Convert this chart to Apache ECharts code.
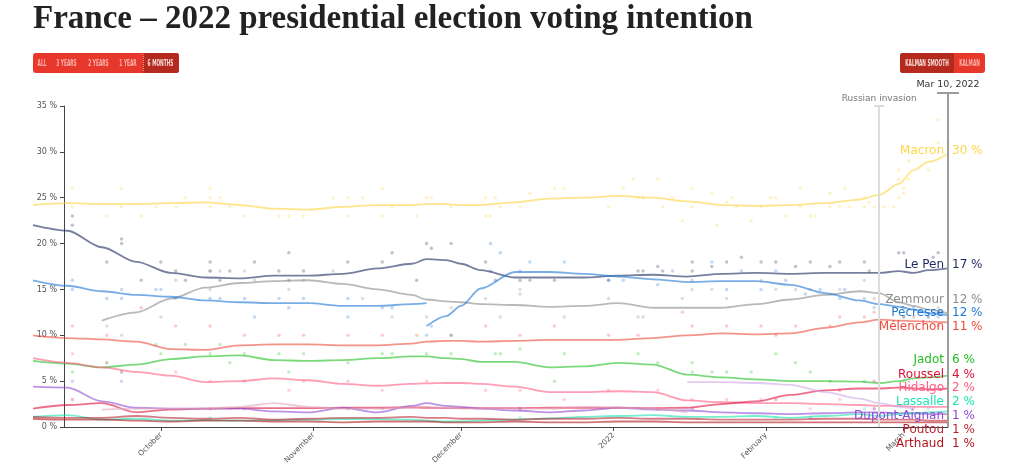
<!DOCTYPE html>
<html><head><meta charset="utf-8">
<script src="https://cdn.jsdelivr.net/npm/echarts@6/dist/echarts.min.js"></script>
<style>html,body{margin:0;padding:0;background:#fff}#c{width:1024px;height:474px}</style>
</head><body><div id="c"></div>
<script>
// ---------------- DATA ----------------
const sampleDates = ['2021-09-05','2021-09-12','2021-09-19','2021-09-26','2021-10-03','2021-10-10','2021-10-17','2021-10-24','2021-10-31','2021-11-07','2021-11-14','2021-11-21','2021-11-24','2021-11-28','2021-12-01','2021-12-05','2021-12-12','2021-12-19','2021-12-26','2022-01-02','2022-01-09','2022-01-16','2022-01-23','2022-01-30','2022-02-06','2022-02-13','2022-02-20','2022-02-24','2022-02-28','2022-03-03','2022-03-06','2022-03-10'];
const macron   = [24.2,24.4,24.3,24.3,24.4,24.5,24.2,23.8,23.7,24.0,24.2,24.2,24.3,24.3,24.2,24.2,24.5,24.9,25.0,25.2,25.0,24.6,24.2,24.1,24.2,24.4,24.8,25.3,26.5,28.0,28.9,29.8];
const lePen    = [22.0,21.4,19.6,18.0,16.8,16.3,16.2,16.5,16.5,16.7,17.3,17.8,18.3,18.2,17.8,17.1,16.3,16.3,16.3,16.5,16.6,16.4,16.7,16.8,16.7,16.8,16.8,16.8,17.0,16.8,17.1,17.3];
const zemmour  = [null,null,11.6,12.5,14.0,15.2,15.7,15.9,16.0,15.6,15.0,14.4,13.9,13.7,13.6,13.4,13.3,13.1,13.2,13.5,13.0,13.0,13.0,13.4,13.9,14.4,14.8,14.6,13.6,13.2,12.8,12.4];
const bertrand = [16.0,15.4,14.8,14.4,14.2,13.8,13.6,13.5,13.5,13.2,13.2,13.4,13.5,null,null,null,null,null,null,null,null,null,null,null,null,null,null,null,null,null,null,null];
const pecresse = [null,null,null,null,null,null,null,null,null,null,null,null,11.0,12.1,13.2,15.1,16.9,16.9,16.7,16.4,16.1,15.8,15.9,15.9,15.5,14.6,13.8,13.4,13.1,12.8,12.4,12.2];
const melenchon= [10.0,9.7,9.55,9.3,8.5,8.4,8.9,9.0,9.0,8.9,8.9,9.1,9.3,9.4,9.4,9.3,9.4,9.5,9.5,9.5,9.7,10.0,10.2,10.1,10.2,10.8,11.4,11.7,11.6,11.55,11.5,11.4];
const jadot    = [7.2,6.9,6.5,6.8,7.4,7.7,7.8,7.3,7.2,7.3,7.5,7.7,7.7,7.5,7.4,7.1,7.1,6.5,6.6,7.0,6.8,5.7,5.4,5.2,5.0,5.0,4.95,4.8,5.0,5.3,5.4,5.6];
const hidalgo  = [7.5,7.0,6.5,6.0,5.6,4.9,5.0,5.3,5.1,4.7,4.5,4.7,4.75,4.8,4.8,4.7,4.4,3.8,3.8,3.9,3.8,2.9,2.7,2.6,2.6,2.5,2.4,2.3,2.3,2.2,2.2,2.2];
const roussel  = [2.0,2.4,2.6,1.6,1.9,2.0,2.05,2.05,2.05,2.1,2.1,2.15,2.1,2.05,2.05,2.05,2.05,2.1,2.1,2.1,2.05,2.1,2.5,2.8,3.5,4.0,4.2,4.2,4.3,4.2,4.1,4.2];
const dupontAignan = [4.4,4.3,2.8,2.1,2.0,2.0,2.0,1.7,1.6,2.1,1.6,2.3,2.6,2.3,2.2,2.0,1.8,1.6,1.8,2.1,1.9,1.8,1.6,1.5,1.4,1.5,1.6,1.6,1.5,1.5,1.4,1.4];
const lassalle = [1.1,1.3,0.8,0.9,0.7,0.75,0.7,0.75,0.8,0.85,0.85,0.8,0.7,0.6,0.6,0.7,0.8,0.95,1.1,1.2,1.3,1.1,1.1,1.2,1.0,1.2,1.4,1.2,1.4,1.5,1.6,1.7];
const poutou   = [1.1,1.0,1.0,1.2,1.0,0.9,1.0,0.8,0.9,1.0,1.0,1.1,1.0,1.0,0.9,0.9,0.8,0.9,0.9,1.0,0.9,0.9,0.8,0.8,0.8,0.9,0.9,0.8,0.8,0.8,0.7,0.7];
const arthaud  = [0.9,0.8,0.8,0.7,0.6,0.7,0.7,0.6,0.6,0.5,0.6,0.6,0.6,0.5,0.5,0.5,0.6,0.5,0.5,0.6,0.6,0.5,0.5,0.5,0.5,0.5,0.5,0.5,0.5,0.5,0.5,0.5];
const montebourg = [null,null,1.9,2.0,2.0,2.0,2.2,2.6,2.2,2.0,2.0,2.1,2.2,2.1,2.0,2.0,2.0,2.0,2.2,2.1,2.0,1.6,null,null,null,null,null,null,null,null,null,null];
const taubira  = [null,null,null,null,null,null,null,null,null,null,null,null,null,null,null,null,null,null,null,null,null,4.9,4.9,4.8,4.6,3.8,3.1,2.6,2.2,2.0,null,null];

const macronPolls = [['2021-09-13',26],['2021-09-13',24],['2021-09-20',23],['2021-09-23',26],['2021-09-23',24],['2021-09-27',23],['2021-09-30',24],['2021-10-04',24],['2021-10-06',25],['2021-10-11',26],['2021-10-11',25],['2021-10-11',24],['2021-10-13',25],['2021-10-15',24],['2021-10-18',23],['2021-10-25',23],['2021-10-27',23],['2021-10-30',23],['2021-11-05',25],['2021-11-08',25],['2021-11-08',23],['2021-11-11',25],['2021-11-15',26],['2021-11-15',23],['2021-11-17',24],['2021-11-22',23],['2021-11-24',25],['2021-11-25',25],['2021-11-29',24],['2021-12-06',25],['2021-12-06',23],['2021-12-07',23],['2021-12-08',25],['2021-12-09',24],['2021-12-13',24],['2021-12-15',25.5],['2021-12-20',26],['2021-12-22',26],['2021-12-31',24],['2022-01-03',26],['2022-01-05',27],['2022-01-06',25],['2022-01-07',25],['2022-01-10',27],['2022-01-11',24],['2022-01-13',25],['2022-01-15',22.5],['2022-01-17',26],['2022-01-17',24],['2022-01-21',25.5],['2022-01-22',22],['2022-01-24',24.5],['2022-01-25',25],['2022-01-26',24],['2022-01-29',22.5],['2022-01-31',24],['2022-02-02',25],['2022-02-03',25],['2022-02-05',23],['2022-02-08',26],['2022-02-08',24],['2022-02-10',23],['2022-02-11',23],['2022-02-14',25.5],['2022-02-14',24],['2022-02-16',24],['2022-02-17',26],['2022-02-18',24],['2022-02-21',25],['2022-02-21',24],['2022-02-22',24.5],['2022-02-23',24],['2022-02-25',24],['2022-02-27',24],['2022-02-28',25],['2022-02-28',27],['2022-02-28',28],['2022-03-01',26],['2022-03-01',25.5],['2022-03-02',29],['2022-03-02',27],['2022-03-06',28],['2022-03-08',31],['2022-03-08',33.5],['2022-03-10',31]];
const lePenPolls = [['2021-09-13',23],['2021-09-13',22],['2021-09-20',18],['2021-09-23',20.5],['2021-09-23',20],['2021-09-27',16],['2021-10-01',18],['2021-10-04',17],['2021-10-06',16],['2021-10-11',18],['2021-10-11',17],['2021-10-13',16],['2021-10-15',17],['2021-10-20',18],['2021-10-25',17],['2021-10-27',19],['2021-10-27',16],['2021-10-30',17],['2021-11-08',18],['2021-11-15',18],['2021-11-17',19],['2021-11-22',16],['2021-11-24',20],['2021-11-25',19.5],['2021-11-29',20],['2021-12-06',18],['2021-12-08',16],['2021-12-13',16],['2021-12-15',16],['2021-12-20',16],['2021-12-31',16],['2022-01-06',17],['2022-01-07',17],['2022-01-10',17.5],['2022-01-11',17],['2022-01-17',18],['2022-01-17',17],['2022-01-21',17.5],['2022-01-24',18],['2022-01-27',18.5],['2022-01-31',18],['2022-02-03',18],['2022-02-07',17.5],['2022-02-10',18],['2022-02-14',17.5],['2022-02-16',18],['2022-02-21',18],['2022-02-22',17],['2022-02-28',19],['2022-03-01',19],['2022-03-07',18.5],['2022-03-08',19]];
const zemmourPolls = [['2021-09-20',11],['2021-09-23',10],['2021-10-01',12],['2021-10-04',16],['2021-10-11',17],['2021-10-11',15],['2021-10-13',17],['2021-10-18',17],['2021-10-20',16],['2021-10-27',15],['2021-10-30',16],['2021-11-05',17],['2021-11-11',14],['2021-11-17',12],['2021-11-24',12],['2021-11-29',13],['2021-12-06',14],['2021-12-09',12],['2021-12-13',15],['2021-12-13',14.5],['2021-12-22',12],['2021-12-31',14],['2022-01-06',12],['2022-01-07',12],['2022-01-15',14],['2022-01-17',15],['2022-01-21',15],['2022-01-24',14],['2022-01-31',16],['2022-02-03',15],['2022-02-07',15],['2022-02-10',15],['2022-02-16',15],['2022-02-21',16],['2022-02-23',14],['2022-03-01',13],['2022-03-06',12],['2022-03-08',13]];
const bertrandPolls = [['2021-09-13',16],['2021-09-13',15],['2021-09-20',14],['2021-09-23',15],['2021-09-23',14],['2021-09-30',15],['2021-10-01',15],['2021-10-04',14],['2021-10-11',14],['2021-10-13',14],['2021-10-18',14],['2021-10-20',12],['2021-10-25',14],['2021-10-27',13],['2021-10-30',14],['2021-11-08',14],['2021-11-08',12],['2021-11-15',13],['2021-11-17',13]];
const pecressePolls = [['2021-11-24',10],['2021-11-25',11],['2021-11-29',10],['2021-12-07',20],['2021-12-09',19],['2021-12-07',17],['2021-12-13',17],['2021-12-15',18],['2021-12-22',18],['2021-12-31',16],['2022-01-03',16],['2022-01-10',15.5],['2022-01-13',17],['2022-01-17',16],['2022-01-21',18],['2022-01-24',15],['2022-01-27',17],['2022-01-31',15],['2022-02-03',17],['2022-02-05',16],['2022-02-09',14.5],['2022-02-12',15],['2022-02-16',14],['2022-02-17',15],['2022-02-21',14],['2022-02-23',13],['2022-03-01',12],['2022-03-03',13],['2022-03-06',12],['2022-03-08',12]];
const melenchonPolls = [['2021-09-13',11],['2021-09-20',10],['2021-09-27',13],['2021-10-04',11],['2021-10-11',11],['2021-10-18',10],['2021-10-25',10],['2021-10-30',10],['2021-11-08',10],['2021-11-15',10],['2021-11-22',10],['2021-11-29',10],['2021-12-06',11],['2021-12-13',10],['2021-12-20',11],['2021-12-31',10],['2022-01-06',10],['2022-01-15',12.5],['2022-01-17',11],['2022-01-24',11],['2022-01-31',11],['2022-02-03',10],['2022-02-07',11],['2022-02-14',11],['2022-02-16',12],['2022-02-21',12],['2022-02-23',12.5],['2022-03-01',12],['2022-03-03',12],['2022-03-08',11]];
const jadotPolls = [['2021-09-13',6],['2021-09-20',7],['2021-09-23',6],['2021-09-30',9],['2021-10-01',8],['2021-10-06',9],['2021-10-11',8],['2021-10-13',9],['2021-10-15',7],['2021-10-18',8],['2021-10-25',8],['2021-10-27',6],['2021-10-30',8],['2021-11-08',7],['2021-11-15',8],['2021-11-17',8],['2021-11-24',8],['2021-11-29',8],['2021-12-08',8],['2021-12-09',8],['2021-12-13',8.5],['2021-12-20',5],['2021-12-22',8],['2022-01-06',8],['2022-01-10',7],['2022-01-17',7],['2022-01-17',6],['2022-01-21',6],['2022-01-24',6],['2022-01-29',6],['2022-02-03',8],['2022-02-07',7],['2022-02-10',6],['2022-02-14',5],['2022-02-21',5],['2022-03-01',5],['2022-03-06',6]];
const hidalgoPolls = [['2021-09-13',8],['2021-09-20',7],['2021-09-23',6],['2021-10-04',6],['2021-10-11',5],['2021-10-18',5],['2021-10-27',4],['2021-10-30',5],['2021-11-08',5],['2021-11-15',4],['2021-11-24',5],['2021-12-06',4],['2021-12-13',4],['2021-12-22',3],['2021-12-31',4],['2022-01-10',4],['2022-01-17',3],['2022-01-24',3],['2022-01-31',3],['2022-02-10',2],['2022-02-16',3],['2022-02-23',2],['2022-03-03',2]];
const rousselPolls = [['2021-09-13',3],['2021-10-11',2],['2021-11-08',2],['2021-12-13',2],['2022-01-10',2],['2022-02-03',3],['2022-02-16',4],['2022-02-23',5],['2022-03-06',4]];
const dupontPolls = [['2021-09-13',5],['2021-09-23',5],['2021-10-18',2],['2021-11-15',2],['2021-12-13',2],['2022-01-17',2],['2022-02-10',1],['2022-02-23',2]];
const lassallePolls = [['2021-10-11',1],['2021-12-13',1],['2022-02-03',1],['2022-02-21',2],['2022-03-06',2]];

const monthTicks  = ['2021-10-01','2021-11-01','2021-12-01','2022-01-01','2022-02-01','2022-03-01'];
const monthLabels = ['October','November','December','2022','February','March'];

const labelNames  = ['Macron','Le Pen','Zemmour','Pécresse','Mélenchon','Jadot','Roussel','Hidalgo','Lassalle','Dupont-Aignan','Poutou','Arthaud'];
const finalValues = [30,17,12,12,11,6,4,2,2,1,1,1];

// ---------------- STYLE / LAYOUT ----------------
const labelColors = ['#ffd54a','#1b2a5c','#8c8c8c','#1f77d4','#ef4b3c','#22c022','#df0f3a','#ff5c84','#17e6b0','#8d4ad3','#bb2433','#b3141b'];
const labelSlots  = [30.1,17.7,13.85,12.45,10.9,7.3,5.7,4.25,2.7,1.25,-0.3,-1.85];

function ts(s){ const p=s.split('-'); return Date.UTC(+p[0], +p[1]-1, +p[2]); }
const axisStart = Date.UTC(2021,8,11,7);   // where the drawn x axis begins
const plotStart = ts('2021-09-05');        // smoothed lines start a little before it
const xMax = ts('2022-03-10');
const tickVals = monthTicks.map(ts);

const lineDefs = [
  ['Macron', macron, '#ffd23f', macronPolls],
  ['Le Pen', lePen, '#1b2a5c', lePenPolls],
  ['Zemmour', zemmour, '#8a8a8a', zemmourPolls],
  ['Bertrand', bertrand, '#1f77d4', bertrandPolls],
  ['Pécresse', pecresse, '#1f77d4', pecressePolls],
  ['Mélenchon', melenchon, '#ef4b3c', melenchonPolls],
  ['Jadot', jadot, '#22c022', jadotPolls],
  ['Hidalgo', hidalgo, '#ff5c84', hidalgoPolls],
  ['Roussel', roussel, '#df0f3a', rousselPolls],
  ['Dupont-Aignan', dupontAignan, '#8d4ad3', dupontPolls],
  ['Lassalle', lassalle, '#17e6b0', lassallePolls],
  ['Poutou', poutou, '#bb2433', null],
  ['Arthaud', arthaud, '#b3141b', null],
  ['Montebourg', montebourg, '#e3a6bc', null],
  ['Taubira', taubira, '#cfa6e6', null]
];

const series = [];
// Russian invasion marker on the axes grid
series.push({
  type:'line', xAxisIndex:0, yAxisIndex:0, silent:true, data:[[ts('2022-02-24'), null]], showSymbol:false,
  markLine:{
    silent:true, animation:false,
    data:[[
      {coord:[ts('2022-02-24'), 0], symbol:'none'},
      {coord:[ts('2022-02-24'), 35], symbol:'rect', symbolSize:[10,2], symbolRotate:0}
    ]],
    lineStyle:{color:'#dcdcdc', width:2, type:'solid'},
    label:{show:true, position:'end', formatter:'Russian invasion', color:'#777', fontSize:9, fontFamily:'DejaVu Sans', distance:3}
  }
});
// Mar 10 marker on overlay grid
series.push({
  type:'line', xAxisIndex:1, yAxisIndex:1, silent:true, data:[[xMax, null]], showSymbol:false,
  markLine:{
    silent:true, animation:false,
    data:[[
      {coord:[xMax, 0], symbol:'none'},
      {coord:[xMax, 1], symbol:'rect', symbolSize:[22,2], symbolRotate:0}
    ]],
    lineStyle:{color:'#9c9c9c', width:2, type:'solid'},
    label:{show:true, position:'end', formatter:'Mar 10, 2022', color:'#333', fontSize:9.5, fontFamily:'DejaVu Sans', distance:3}
  }
});
lineDefs.forEach(([name, vals, color, polls]) => {
  if (polls) series.push({
    type:'scatter', name: name+' polls', xAxisIndex:2, yAxisIndex:2, silent:true, z:2,
    data: polls.map(p => [ts(p[0]), p[1]]),
    symbolSize: 3.5, itemStyle:{color: color, opacity: 0.28}
  });
  series.push({
    type:'line', name: name, xAxisIndex:2, yAxisIndex:2, silent:true, z:3, clip:false,
    data: sampleDates.map((d,i) => [ts(d), vals[i]]),
    showSymbol:false, smooth:0.3, smoothMonotone:'x', connectNulls:false,
    lineStyle:{color: color, width:1.8, opacity:0.6}, itemStyle:{color: color}
  });
});
// end labels
series.push({
  type:'custom', xAxisIndex:2, yAxisIndex:2, silent:true, z:10, clip:false,
  data: labelNames.map((n,i) => [xMax, labelSlots[i], i]),
  renderItem: function(params, api){
    const i = api.value(2);
    const p = api.coord([api.value(0), api.value(1)]);
    return {type:'group', children:[
      {type:'text', x:p[0]-4, y:p[1], style:{text:labelNames[i], fill:labelColors[i], align:'right', verticalAlign:'middle', font:'12px "DejaVu Sans"'}},
      {type:'text', x:p[0]+4, y:p[1], style:{text:finalValues[i]+' %', fill:labelColors[i], align:'left', verticalAlign:'middle', font:'12px "DejaVu Sans"'}}
    ]};
  }
});

const btnFont = 'bold 8px "DejaVu Sans Condensed", "DejaVu Sans", sans-serif';
function btnText(t, cx, fill){ return {type:'text', x:cx, y:63.5, z:101, scaleX:0.6, style:{text:t, fill:fill, align:'center', verticalAlign:'middle', font:btnFont}}; }

const option = {
  animation:false,
  backgroundColor:'#fff',
  title:{text:'France – 2022 presidential election voting intention', left:33, top:3, padding:0,
    textStyle:{fontFamily:'Liberation Serif', fontWeight:'bold', fontSize:33, color:'#222'}},
  grid:[
    {left:64, right:76, top:106, bottom:47},
    {left:64, right:76, top:93, bottom:47},
    {left:33, right:76, top:106, bottom:47}
  ],
  xAxis:[
    {type:'value', gridIndex:0, min:axisStart, max:xMax,
     axisLine:{show:true, onZero:false, lineStyle:{color:'#444', width:1}},
     axisTick:{show:true, length:4, customValues: tickVals, lineStyle:{color:'#444'}},
     axisLabel:{show:true, customValues: tickVals, rotate:45, fontSize:7.5, color:'#555', fontFamily:'DejaVu Sans', margin:7,
       formatter: function(v){ const i = tickVals.indexOf(v); return i>=0 ? monthLabels[i] : ''; }},
     splitLine:{show:false}},
    {type:'value', gridIndex:1, min:axisStart, max:xMax, show:false},
    {type:'value', gridIndex:2, min:plotStart, max:xMax, show:false}
  ],
  yAxis:[
    {type:'value', gridIndex:0, min:0, max:35, interval:5,
     axisLine:{show:true, lineStyle:{color:'#444', width:1}},
     axisTick:{show:true, length:4, lineStyle:{color:'#444'}},
     axisLabel:{formatter:'{value} %', fontSize:8, color:'#555', fontFamily:'DejaVu Sans', margin:7},
     splitLine:{show:false}},
    {type:'value', gridIndex:1, min:0, max:1, show:false},
    {type:'value', gridIndex:2, min:0, max:35, show:false}
  ],
  series: series,
  graphic:[
    {type:'rect', z:100, shape:{x:33, y:53, width:146, height:20, r:3}, style:{fill:'#e8382b'}},
    {type:'rect', z:100, shape:{x:143, y:53, width:36, height:20, r:[0,3,3,0]}, style:{fill:'#b52a1f'}},
    {type:'line', z:101, shape:{x1:143.5, y1:54, x2:143.5, y2:72}, style:{stroke:'#f19a90', lineWidth:1, lineDash:[1,1]}},
    btnText('ALL', 42, '#f7b1a8'), btnText('3 YEARS', 66.5, '#f7b1a8'), btnText('2 YEARS', 98.5, '#f7b1a8'),
    btnText('1 YEAR', 128, '#f7b1a8'), btnText('6 MONTHS', 160.5, '#f6dcd8'),
    {type:'rect', z:100, shape:{x:900, y:53, width:85, height:20, r:3}, style:{fill:'#e8382b'}},
    {type:'rect', z:100, shape:{x:900, y:53, width:54, height:20, r:[3,0,0,3]}, style:{fill:'#b52a1f'}},
    btnText('KALMAN SMOOTH', 927, '#f6dcd8'), btnText('KALMAN', 969.5, '#f7b1a8')
  ]
};

const chart = echarts.init(document.getElementById('c'), null, {renderer:'canvas'});
chart.setOption(option);
</script>
</body></html>
